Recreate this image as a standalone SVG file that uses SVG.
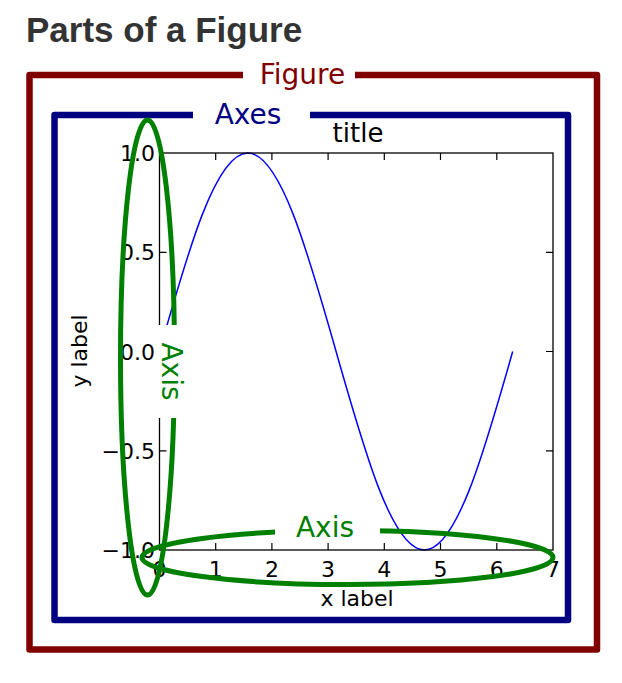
<svg xmlns="http://www.w3.org/2000/svg" width="622" height="683" viewBox="0 0 622 683">
  <style>
    .dv { font-family: "DejaVu Sans", sans-serif; }
    .tick { font-family: "DejaVu Sans", sans-serif; font-size: 22px; fill: #000; }
    .frame { fill: none; stroke-width: 6.5; stroke-linejoin: round; }
    .tk { stroke: #000; stroke-width: 1.2; fill: none; }
    .green { fill: none; stroke: #008000; stroke-width: 5; }
    .mask { fill: #fff; stroke: none; }
  </style>
  <rect width="622" height="683" fill="#fff"/>

  <g id="page-title">
    <text x="26" y="42" font-family="Liberation Sans, Arial, sans-serif" font-weight="bold" font-size="35" fill="#333">Parts of a Figure</text>
  </g>

  <g id="figure">
    <path class="frame" stroke="#800000" d="M243 75 H29.5 V649.5 H597 V75 H355"/>
    <text class="dv" x="302.5" y="83.5" font-size="28" fill="#800000" text-anchor="middle">Figure</text>
  </g>

  <g id="axes">
    <path class="frame" stroke="#000080" d="M193 115 H54.5 V620 H568 V115 H310"/>
    <text class="dv" x="248" y="124" font-size="28" fill="#000080" text-anchor="middle">Axes</text>
  </g>

  <g id="plot">
    <text class="dv" x="358" y="142" font-size="26" text-anchor="middle" fill="#000">title</text>
    <path d="M159.5 351.5 C188.3 249.81 215.84 153 247.8 153 C279.75 153 307.29 249.81 336.09 351.5 C364.89 453.19 392.43 550 424.39 550 C456.34 550 483.88 453.19 512.68 351.5" fill="none" stroke="#0000ff" stroke-width="1.5"/>
    <rect x="159.5" y="153" width="393.5" height="397" fill="none" stroke="#000" stroke-width="1.3"/>
    <path class="tk" d="M215.7 550 v-7 M271.9 550 v-7 M328.1 550 v-7 M384.3 550 v-7 M440.5 550 v-7 M496.8 550 v-7
                       M215.7 153 v7 M271.9 153 v7 M328.1 153 v7 M384.3 153 v7 M440.5 153 v7 M496.8 153 v7
                       M159.5 252.3 h7 M159.5 351.5 h7 M159.5 450.8 h7
                       M553 252.3 h-7 M553 351.5 h-7 M553 450.8 h-7"/>
    <g class="tick" text-anchor="end">
      <text x="155" y="161">1.0</text>
      <text x="155" y="260.3">0.5</text>
      <text x="155" y="359.5">0.0</text>
      <text x="155" y="458.8">−0.5</text>
      <text x="155" y="558">−1.0</text>
    </g>
    <g class="tick" text-anchor="middle">
      <text x="159.5" y="577">0</text>
      <text x="215.7" y="577">1</text>
      <text x="271.9" y="577">2</text>
      <text x="328.1" y="577">3</text>
      <text x="384.3" y="577">4</text>
      <text x="440.5" y="577">5</text>
      <text x="496.8" y="577">6</text>
      <text x="553" y="577">7</text>
    </g>
    <text class="tick" x="357" y="606" text-anchor="middle">x label</text>
    <text class="tick" transform="translate(87 351) rotate(-90)" text-anchor="middle">y label</text>
  </g>

  <g id="y-axis-callout">
    <ellipse class="green" cx="147.5" cy="357.5" rx="27" ry="237.5"/>
    <rect class="mask" x="156" y="325" width="30" height="93"/>
    <text class="dv" transform="translate(162 371.5) rotate(90)" font-size="28" fill="#008000" text-anchor="middle">Axis</text>
  </g>

  <g id="x-axis-callout">
    <ellipse class="green" cx="347.5" cy="557.5" rx="205.5" ry="27"/>
    <rect class="mask" x="275" y="510" width="105" height="26"/>
    <text class="dv" x="325" y="537" font-size="28" fill="#008000" text-anchor="middle">Axis</text>
  </g>
</svg>
